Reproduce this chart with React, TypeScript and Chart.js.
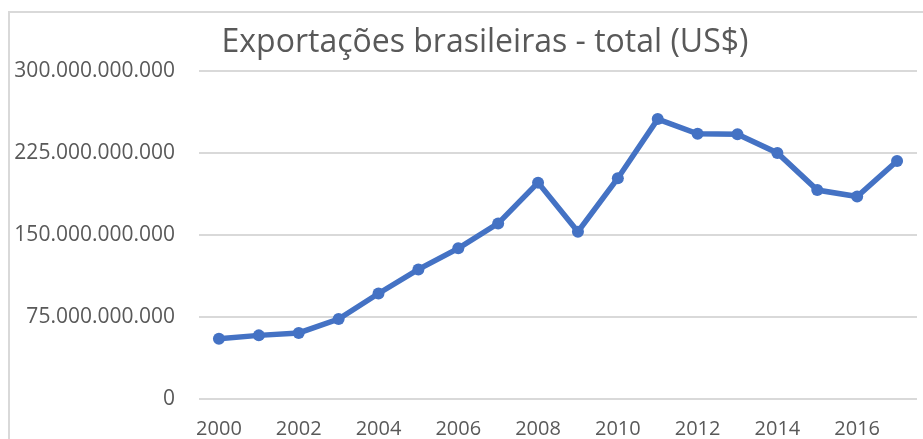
import React, { useEffect, useRef } from "react";
import { Chart, registerables } from "chart.js";

Chart.register(...registerables);

const years = [
  "2000", "2001", "2002", "2003", "2004", "2005", "2006", "2007", "2008",
  "2009", "2010", "2011", "2012", "2013", "2014", "2015", "2016", "2017",
];
const exportsUSD = [
  55.1e9, 58.2e9, 60.4e9, 73.1e9, 96.5e9, 118.5e9, 137.8e9, 160.6e9, 197.9e9,
  153.0e9, 201.9e9, 256.0e9, 242.6e9, 242.2e9, 225.1e9, 191.1e9, 185.2e9, 217.7e9,
];
const titleText = "Exportações brasileiras - total (US$)";
const yMin = 0;
const yMax = 300e9;
const yStep = 75e9;

const fmt = (v: number) =>
  Math.round(v).toString().replace(/\B(?=(\d{3})+(?!\d))/g, ".");

const titlePlugin = {
  id: "customTitle",
  afterDraw(chart: any) {
    const ctx = chart.ctx;
    ctx.save();
    ctx.font = "32px 'Open Sans'";
    ctx.fillStyle = "#595959";
    ctx.textAlign = "center";
    ctx.textBaseline = "alphabetic";
    ctx.fillText(titleText, 485, 52);
    ctx.restore();
  },
};

export default function App() {
  const ref = useRef<HTMLCanvasElement>(null);
  useEffect(() => {
    if (!ref.current) return;
    const chart = new Chart(ref.current, {
      type: "line",
      data: {
        labels: years,
        datasets: [
          {
            data: exportsUSD,
            borderColor: "#4472C4",
            backgroundColor: "#4472C4",
            borderWidth: 5.5,
            pointRadius: 6,
            pointBorderWidth: 0,
            pointBackgroundColor: "#4472C4",
            tension: 0,
            fill: false,
          },
        ],
      },
      options: {
        responsive: false,
        animation: false,
        devicePixelRatio: 1,
        layout: { padding: { top: 71, right: 1, left: 0, bottom: 0 } },
        plugins: {
          legend: { display: false },
          title: { display: false },
          tooltip: { enabled: false },
        },
        scales: {
          x: {
            offset: true,
            afterFit: (scale: any) => {
              scale.height = 47;
            },
            grid: { display: false, drawTicks: false },
            border: { display: false },
            ticks: {
              autoSkip: false,
              maxRotation: 0,
              padding: 18,
              color: "#595959",
              font: { family: "'Open Sans'", size: 20 },
              callback: (_v: any, i: number) => (i % 2 === 0 ? years[i] : ""),
            },
          },
          y: {
            min: yMin,
            max: yMax,
            afterFit: (scale: any) => {
              scale.width = 199;
            },
            grid: { color: "#d9d9d9", lineWidth: 2, drawTicks: false },
            border: { display: false },
            ticks: {
              stepSize: yStep,
              padding: 24,
              color: "#595959",
              font: { family: "'Open Sans'", size: 21 },
              callback: (v: any) => fmt(Number(v)),
            },
          },
        },
      },
      plugins: [titlePlugin],
    });
    return () => chart.destroy();
  }, []);

  return (
    <div
      style={{
        position: "absolute",
        left: 0,
        top: 0,
        width: 923,
        height: 439,
        overflow: "hidden",
        background: "#ffffff",
      }}
    >
      <canvas ref={ref} width={923} height={446} style={{ display: "block" }} />
      <div
        style={{
          position: "absolute",
          left: 8,
          top: 11,
          width: 930,
          height: 450,
          borderLeft: "2px solid #d9d9d9",
          borderTop: "2px solid #d9d9d9",
          pointerEvents: "none",
        }}
      />
    </div>
  );
}
